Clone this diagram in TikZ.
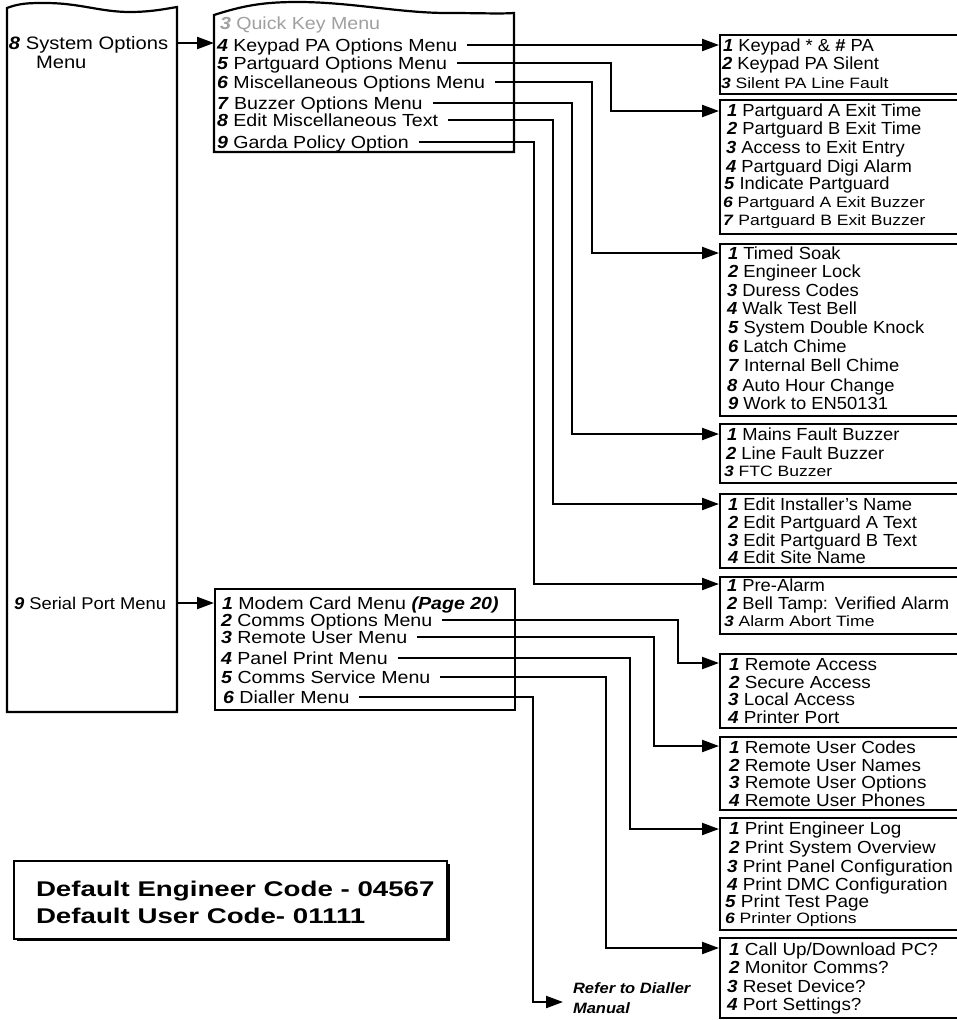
\documentclass[tikz,border=0pt]{standalone}
\usepackage{fontspec}
\setmainfont{Liberation Sans}
\newfontfamily\fA{Liberation Sans}[FakeStretch=1.05]
\newfontfamily\fB{Liberation Sans}[FakeStretch=1.08]
\newfontfamily\fC{Liberation Sans}[FakeStretch=1.12]
\newfontfamily\fS{Liberation Sans}[FakeStretch=1.17]
\newfontfamily\fD{Liberation Sans}[FakeStretch=1.3]
\newfontfamily\fR{Liberation Sans}[FakeStretch=1.1]
\usetikzlibrary{arrows.meta,calc}
\newcommand{\nm}[1]{\textbf{\textit{#1}}}
\definecolor{qgray}{RGB}{160,160,160}
\tikzset{
  basetxt/.style={anchor=base west, inner sep=0pt, outer sep=0pt},
  tA/.style={basetxt, font=\fA\fontsize{17.5}{20}\selectfont},
  tB/.style={basetxt, font=\fB\fontsize{17.5}{20}\selectfont},
  tC/.style={basetxt, font=\fC\fontsize{17.5}{20}\selectfont},
  tS/.style={basetxt, font=\fS\fontsize{15}{18}\selectfont},
  tL/.style={basetxt, font=\fC\fontsize{18}{21}\selectfont},
  tSer/.style={basetxt, font=\fB\fontsize{17}{20}\selectfont},
  tD/.style={basetxt, font=\fD\bfseries\fontsize{21.3}{24}\selectfont},
  tR/.style={basetxt, font=\fR\bfseries\itshape\fontsize{15}{18}\selectfont},
  rbox/.style={draw, line width=2.2pt, anchor=north west, inner sep=0pt, minimum width=300pt},
  wavebox/.style={draw, line width=2.2pt, line join=miter},
  conn/.style={line width=2.2pt},
  arr/.style={conn, -{Triangle[length=17pt,width=12pt]}},
}
\begin{document}
\begin{tikzpicture}[x=1pt,y=-1pt]
\clip (0,0) rectangle (957,1020);
\fill[white] (0,0) rectangle (957,1020);

% ---- left main box (wavy top)
\draw[wavebox] (7,712) -- (7,8) .. controls (20,3) and (30,3) .. (45,3)
   .. controls (80,3) and (100,12) .. (130,12) .. controls (150,12) and (165,9) .. (177,7)
   -- (177,712) -- cycle;
\coordinate (Lr1) at (177,43);
\coordinate (Lr2) at (177,603);
\node[tL] (lt1) at (9,49.5) {\nm{8} System Options};
\node[tL] (lt2) at (36,68.5) {Menu};
\node[tSer] (lt3) at (14,609) {\nm{9} Serial Port Menu};

% ---- system options submenu (wavy top)
\draw[wavebox] (214,152) -- (214,15) .. controls (245,5) and (265,2) .. (298,2)
   .. controls (350,2) and (400,13) .. (447,13) .. controls (480,13) and (500,14) .. (514,13)
   -- (514,152) -- cycle;
\coordinate (Bl1) at (214,43);
\node[tC, text=qgray] (s3) at (220,29) {\nm{3} Quick Key Menu};
\node[tC] (s4) at (217,51)  {\nm{4} Keypad PA Options Menu};
\node[tC] (s5) at (217,69)  {\nm{5} Partguard Options Menu};
\node[tC] (s6) at (217,88)  {\nm{6} Miscellaneous Options Menu};
\node[tC] (s7) at (217,109) {\nm{7} Buzzer Options Menu};
\node[tC] (s8) at (217,126) {\nm{8} Edit Miscellaneous Text};
\node[tC] (s9) at (217,148) {\nm{9} Garda Policy Option};

% ---- serial port submenu
\node[rbox, minimum height=121pt] (sp) at (214,588) {};
\node[tC] (p1) at (222,609) {\nm{1} Modem Card Menu \nm{(Page 20)}};
\node[tC] (p2) at (221,626) {\nm{2} Comms Options Menu};
\node[tC] (p3) at (221,643) {\nm{3} Remote User Menu};
\node[tC] (p4) at (221,664) {\nm{4} Panel Print Menu};
\node[tC] (p5) at (221,683) {\nm{5} Comms Service Menu};
\node[tC] (p6) at (223,703) {\nm{6} Dialler Menu};

% ---- right-hand boxes
\node[rbox, minimum height=59pt]  (bKP) at (719,34)  {};
\node[rbox, minimum height=134pt] (bPG) at (719,99)  {};
\node[rbox, minimum height=172pt] (bMS) at (719,243) {};
\node[rbox, minimum height=59pt]  (bBZ) at (719,423) {};
\node[rbox, minimum height=74pt]  (bED) at (719,493) {};
\node[rbox, minimum height=57pt]  (bGD) at (719,576) {};
\node[rbox, minimum height=74pt]  (bRA) at (719,653) {};
\node[rbox, minimum height=73pt]  (bRU) at (719,736) {};
\node[rbox, minimum height=112pt] (bPP) at (719,817) {};
\node[rbox, minimum height=80pt]  (bCS) at (719,937) {};

% keypad PA
\node[tA] (kp1) at (723,51) {\nm{1} Keypad * \& \textbf{\#} PA};
\node[tA] (kp2) at (722,69) {\nm{2} Keypad PA Silent};
\node[tS] (kp3) at (721,88) {\nm{3} Silent PA Line Fault};
% partguard
\node[tA] (pg1) at (727,116) {\nm{1} Partguard A Exit Time};
\node[tA] (pg2) at (727,134) {\nm{2} Partguard B Exit Time};
\node[tA] (pg3) at (726,153) {\nm{3} Access to Exit Entry};
\node[tA] (pg4) at (726,172) {\nm{4} Partguard Digi Alarm};
\node[tA] (pg5) at (724,189) {\nm{5} Indicate Partguard};
\node[tS] (pg6) at (723,207) {\nm{6} Partguard A Exit Buzzer};
\node[tS] (pg7) at (723,225) {\nm{7} Partguard B Exit Buzzer};
% miscellaneous
\node[tA] (ms1) at (728,259) {\nm{1} Timed Soak};
\node[tA] (ms2) at (728,277) {\nm{2} Engineer Lock};
\node[tA] (ms3) at (727,296) {\nm{3} Duress Codes};
\node[tA] (ms4) at (727,314) {\nm{4} Walk Test Bell};
\node[tA] (ms5) at (728,333) {\nm{5} System Double Knock};
\node[tA] (ms6) at (728,352) {\nm{6} Latch Chime};
\node[tA] (ms7) at (728,371) {\nm{7} Internal Bell Chime};
\node[tA] (ms8) at (727,391) {\nm{8} Auto Hour Change};
\node[tA] (ms9) at (728,409) {\nm{9} Work to EN50131};
% buzzer
\node[tA] (bz1) at (727,440) {\nm{1} Mains Fault Buzzer};
\node[tA] (bz2) at (726,459) {\nm{2} Line Fault Buzzer};
\node[tS] (bz3) at (724,476) {\nm{3} FTC Buzzer};
% edit text
\node[tA] (ed1) at (728,510) {\nm{1} Edit Installer’s Name};
\node[tA] (ed2) at (728,528) {\nm{2} Edit Partguard A Text};
\node[tA] (ed3) at (728,546) {\nm{3} Edit Partguard B Text};
\node[tA] (ed4) at (728,563) {\nm{4} Edit Site Name};
% garda
\node[tA] (gd1) at (727,591) {\nm{1} Pre-Alarm};
\node[tA] (gd2) at (727,609) {\nm{2} Bell Tamp: Verified Alarm};
\node[tS] (gd3) at (724,626) {\nm{3} Alarm Abort Time};
% remote access
\node[tB] (ra1) at (729,670) {\nm{1} Remote Access};
\node[tB] (ra2) at (729,688) {\nm{2} Secure Access};
\node[tB] (ra3) at (728,705) {\nm{3} Local Access};
\node[tB] (ra4) at (728,723) {\nm{4} Printer Port};
% remote user
\node[tB] (ru1) at (729,753) {\nm{1} Remote User Codes};
\node[tB] (ru2) at (729,771) {\nm{2} Remote User Names};
\node[tB] (ru3) at (729,788) {\nm{3} Remote User Options};
\node[tB] (ru4) at (729,806) {\nm{4} Remote User Phones};
% panel print
\node[tB] (pp1) at (729,834) {\nm{1} Print Engineer Log};
\node[tB] (pp2) at (729,853) {\nm{2} Print System Overview};
\node[tB] (pp3) at (727,872) {\nm{3} Print Panel Configuration};
\node[tB] (pp4) at (727,890) {\nm{4} Print DMC Configuration};
\node[tB] (pp5) at (725,907) {\nm{5} Print Test Page};
\node[tS] (pp6) at (725,923) {\nm{6} Printer Options};
% comms service
\node[tB] (cs1) at (729,955)  {\nm{1} Call Up/Download PC?};
\node[tB] (cs2) at (729,973)  {\nm{2} Monitor Comms?};
\node[tB] (cs3) at (727,992)  {\nm{3} Reset Device?};
\node[tB] (cs4) at (727,1010) {\nm{4} Port Settings?};

% ---- dialler reference
\node[tR] (ref1) at (573,993)  {Refer to Dialler};
\node[tR] (ref2) at (573,1013) {Manual};
\coordinate (dtip) at (563,1002);

% ---- default codes box
\fill (16.5,863.5) rectangle (449.5,941);
\node[draw, fill=white, line width=2pt, anchor=north west, inner sep=0pt,
      minimum width=433pt, minimum height=78pt] (defbox) at (13,860) {};
\node[tD] (d1) at (36,896.5) {Default Engineer Code - 04567};
\node[tD] (d2) at (36,923.5) {Default User Code- 01111};

% ---- connectors
\draw[arr] (Lr1) -- (Bl1);
\draw[arr] (Lr2) -- (sp.west |- 0,603);

\draw[arr] ($(s4.base east)+(10,-6)$) -- (bKP.west |- 0,45);
\draw[arr] ($(s5.base east)+(10,-6)$) -| (611,111) -- (bPG.west |- 0,111);
\draw[arr] ($(s6.base east)+(10,-6)$) -| (592,253) -- (bMS.west |- 0,253);
\draw[arr] ($(s7.base east)+(10,-6)$) -| (572,434) -- (bBZ.west |- 0,434);
\draw[arr] ($(s8.base east)+(10,-6)$) -| (553,504) -- (bED.west |- 0,504);
\draw[arr] ($(s9.base east)+(10,-6)$) -| (534,584) -- (bGD.west |- 0,584);

\draw[arr] ($(p2.base east)+(10,-6)$) -| (678,663) -- (bRA.west |- 0,663);
\draw[arr] ($(p3.base east)+(10,-6)$) -| (654,746) -- (bRU.west |- 0,746);
\draw[arr] ($(p4.base east)+(10,-6)$) -| (630,829) -- (bPP.west |- 0,829);
\draw[arr] ($(p5.base east)+(10,-6)$) -| (606,948) -- (bCS.west |- 0,948);
\draw[arr] ($(p6.base east)+(10,-6)$) -| (533,1002) -- (dtip);
\end{tikzpicture}
\end{document}
